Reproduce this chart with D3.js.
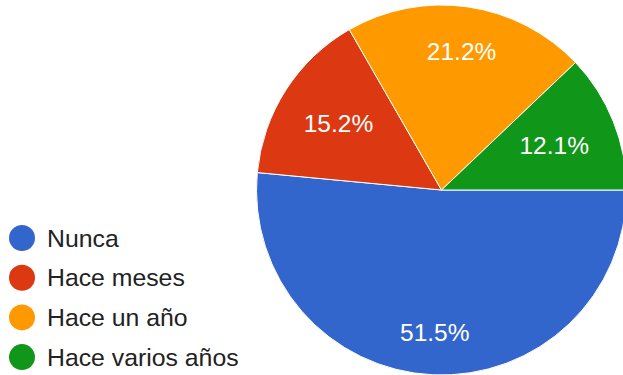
<!DOCTYPE html>
<html>
<head>
<meta charset="utf-8">
<script src="https://cdn.jsdelivr.net/npm/d3@7"></script>
<style>
  body { margin: 0; background: #fff; }
  text { font-family: "Liberation Sans", Arial, sans-serif; }
</style>
</head>
<body>
<script>
// survey answers and their shares (%)
var categories = ["Nunca", "Hace meses", "Hace un año", "Hace varios años"];
var values = [51.5, 15.2, 21.2, 12.1];
var colors = ["#3366cc", "#dc3912", "#ff9900", "#109618"];

var svgWidth = 623;
var svgHeight = 375;
var cx = 441.5, cy = 190, radius = 185;
var labelReach = 157; // farthest corner of a label box from the centre

var svg = d3.select("body")
  .append("svg")
    .attr("width", svgWidth)
    .attr("height", svgHeight);

var data = categories.map(function(c, i){ return {name: c, value: values[i]}; });

// first slice starts at 3 o'clock and runs clockwise
var pie = d3.pie()
  .value(function(d){ return d.value; })
  .sort(null)
  .startAngle(Math.PI / 2)
  .endAngle(Math.PI / 2 + 2 * Math.PI);

var arc = d3.arc().innerRadius(0).outerRadius(radius);

var color = d3.scaleOrdinal().domain(categories).range(colors);

var g = svg.append("g")
  .attr("transform", "translate(" + cx + "," + cy + ")");

var arcs = pie(data);

g.selectAll("path.slice")
  .data(arcs)
  .enter().append("path")
    .attr("class", "slice")
    .attr("d", arc)
    .attr("fill", function(d){ return color(d.data.name); })
    .attr("stroke", "#fff")
    .attr("stroke-width", 1);

var labels = g.selectAll("text.pct")
  .data(arcs)
  .enter().append("text")
    .attr("class", "pct")
    .attr("text-anchor", "middle")
    .attr("dy", "0.35em")
    .attr("fill", "#fff")
    .style("font-size", "24.5px")
    .text(function(d){ return d.data.value.toFixed(1) + "%"; });

// push each label out along the slice middle until its box nearly reaches the rim
labels.attr("transform", function(d){
  var w = this.getComputedTextLength() / 2, h = 9;
  var a = (d.startAngle + d.endAngle) / 2;
  var sx = Math.sin(a), sy = -Math.cos(a);
  var lo = 0, hi = radius;
  for (var k = 0; k < 40; k++) {
    var r = (lo + hi) / 2;
    var fx = Math.abs(r * sx) + w, fy = Math.abs(r * sy) + h;
    if (Math.sqrt(fx * fx + fy * fy) > labelReach) hi = r; else lo = r;
  }
  return "translate(" + (lo * sx) + "," + (lo * sy) + ")";
});

// legend
var legend = svg.append("g")
  .attr("transform", "translate(22,238)");

var item = legend.selectAll("g.item")
  .data(categories)
  .enter().append("g")
    .attr("class", "item")
    .attr("transform", function(d, i){ return "translate(0," + (i * 39.7) + ")"; });

item.append("circle")
  .attr("r", 13)
  .attr("fill", function(d){ return color(d); });

item.append("text")
  .attr("x", 25)
  .attr("dy", "0.35em")
  .attr("fill", "#222")
  .style("font-size", "24.8px")
  .text(function(d){ return d; });
</script>
</body>
</html>
